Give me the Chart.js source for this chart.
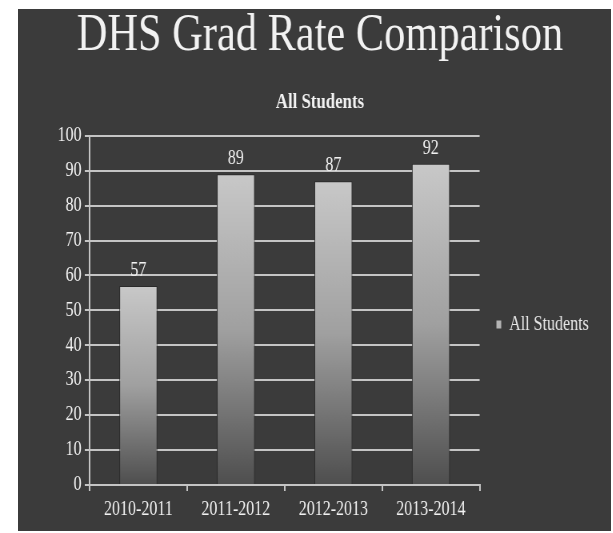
<!DOCTYPE html>
<html>
<head>
<meta charset="utf-8">
<script src="https://cdn.jsdelivr.net/npm/chart.js@4.4.1/dist/chart.umd.min.js"></script>
<style>
  html, body { margin: 0; padding: 0; background: #fff; width: 613px; height: 533px; overflow: hidden; }
  /* the slide behind the chart (scanned slide, dark grey) */
  #slide { position: absolute; left: 18px; top: 9px; right: 2px; bottom: 2px; background: #3b3b3b; }
  /* the photo squeezes everything a bit horizontally */
  #chart { position: absolute; left: 0; top: 0; transform: scaleX(0.8); transform-origin: 0 0; }
</style>
</head>
<body>
<div id="slide"></div>
<canvas id="chart" width="766" height="533"></canvas>
<script>
// Data
const categories = ['2010-2011', '2011-2012', '2012-2013', '2013-2014'];
const gradRates = [57, 89, 87, 92];
const seriesName = 'All Students';
const yMin = 0;
const yMax = 100;
const yStep = 10;

const serif = "'Liberation Serif', 'Times New Roman', serif";
const textColor = '#f2f2f2';
const lineColor = '#c4c4c4';

// Bars fade from light grey at the top to dark grey at the base
function barGradient(ctx) {
    const chart = ctx.chart;
    if (!chart.chartArea || ctx.raw === undefined) return '#a0a0a0';
    const y = chart.scales.y;
    const top = y.getPixelForValue(ctx.raw);
    const bottom = y.getPixelForValue(0);
    const g = chart.ctx.createLinearGradient(0, top, 0, bottom);
    g.addColorStop(0, '#c8c8c8');
    g.addColorStop(0.5, '#a0a0a0');
    g.addColorStop(1, '#4e4e4e');
    return g;
}

// Value labels above each bar
const valueLabels = {
    id: 'valueLabels',
    afterDatasetsDraw(chart) {
        const ctx = chart.ctx;
        const meta = chart.getDatasetMeta(0);
        ctx.save();
        ctx.font = '20px ' + serif;
        ctx.fillStyle = textColor;
        ctx.textAlign = 'center';
        ctx.textBaseline = 'alphabetic';
        meta.data.forEach((bar, i) => {
            ctx.fillText(String(chart.data.datasets[0].data[i]), bar.x, bar.y - 10);
        });
        ctx.restore();
    }
};

new Chart(document.getElementById('chart'), {
    type: 'bar',
    data: {
        labels: categories,
        datasets: [{
            label: seriesName,
            data: gradRates,
            backgroundColor: barGradient,
            borderColor: '#2a2a2a',
            borderWidth: 1,
            categoryPercentage: 1,
            barPercentage: 0.39
        }]
    },
    options: {
        responsive: false,
        animation: false,
        devicePixelRatio: 1,
        layout: {
            padding: { top: 0, left: 54, right: 20, bottom: 4 }
        },
        plugins: {
            title: {
                display: true,
                text: 'DHS Grad Rate Comparison',
                color: textColor,
                font: { family: serif, size: 53, weight: 'normal' },
                padding: { top: 4, bottom: 10 }
            },
            subtitle: {
                display: true,
                text: 'All Students',
                color: textColor,
                font: { family: serif, size: 21, weight: 'bold' },
                padding: { top: 12, bottom: 21 }
            },
            legend: {
                position: 'right',
                align: 'center',
                // empty title only pushes the entry down beside the plot
                title: {
                    display: true,
                    text: '',
                    font: { size: 10 },
                    padding: { top: 54, bottom: 54 }
                },
                labels: {
                    color: '#e6e6e6',
                    font: { family: serif, size: 20 },
                    boxWidth: 6,
                    boxHeight: 8,
                    padding: 21,
                    generateLabels: (chart) => [{
                        text: seriesName,
                        fillStyle: '#b4b4b4',
                        strokeStyle: '#b4b4b4',
                        lineWidth: 0,
                        fontColor: '#e6e6e6',
                        datasetIndex: 0
                    }]
                }
            },
            tooltip: { enabled: false }
        },
        scales: {
            x: {
                grid: {
                    display: true,
                    drawOnChartArea: false,
                    drawTicks: true,
                    tickLength: 6,
                    color: lineColor,
                    lineWidth: 2
                },
                border: { display: true, color: lineColor, width: 2 },
                ticks: {
                    color: textColor,
                    font: { family: serif, size: 20 },
                    padding: 7,
                    maxRotation: 0
                }
            },
            y: {
                min: yMin,
                max: yMax,
                afterFit: (scale) => { scale.width = 58; },
                grid: {
                    color: lineColor,
                    lineWidth: 2,
                    tickLength: 6
                },
                border: { display: true, color: lineColor, width: 2 },
                ticks: {
                    stepSize: yStep,
                    color: textColor,
                    font: { family: serif, size: 20 },
                    padding: 4
                }
            }
        }
    },
    plugins: [valueLabels]
});
</script>
</body>
</html>
